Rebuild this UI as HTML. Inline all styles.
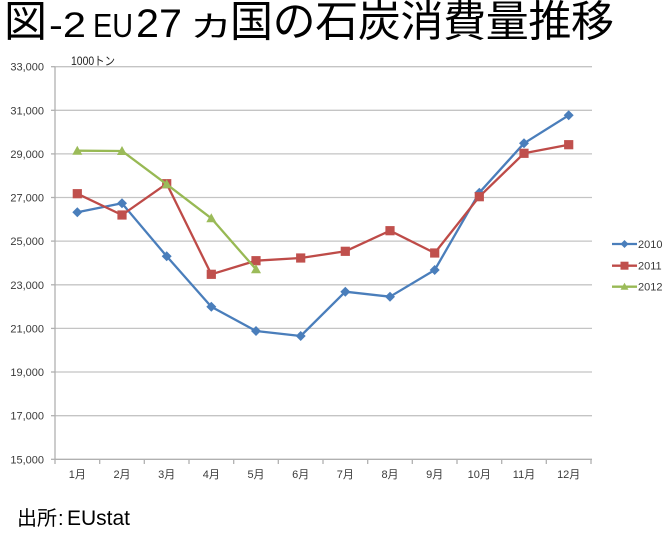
<!DOCTYPE html>
<html>
<head>
<meta charset="utf-8">
<style>
html,body{margin:0;padding:0;background:#fff;}
svg{display:block;}
</style>
</head>
<body>
<svg width="670" height="536" viewBox="0 0 670 536" xmlns="http://www.w3.org/2000/svg">
  <rect x="0" y="0" width="670" height="536" fill="#fff"/>
  <!-- Title -->
  <g fill="#000" font-family="'Liberation Sans','Noto Sans CJK JP',sans-serif">
    <text x="4" y="36.5" font-size="43" font-family="'Noto Sans CJK JP',sans-serif">図</text>
    <text x="49" y="37" font-size="35" textLength="37" lengthAdjust="spacingAndGlyphs">-2</text>
    <text x="93" y="37" font-size="33" textLength="40" lengthAdjust="spacingAndGlyphs">EU</text>
    <text x="136" y="37" font-size="40" textLength="46" lengthAdjust="spacingAndGlyphs">27</text>
    <text transform="translate(190,37) scale(1,0.7)" font-size="42" font-family="'Noto Sans CJK JP',sans-serif">カ</text>
    <text x="230" y="36.5" font-size="43" font-family="'Noto Sans CJK JP',sans-serif" textLength="384" lengthAdjust="spacing">国の石炭消費量推移</text>
  </g>

  <!-- unit -->
  <text x="71" y="65" font-size="12" fill="#222" font-family="'Liberation Sans','Noto Sans CJK JP',sans-serif" textLength="44" lengthAdjust="spacingAndGlyphs">1000トン</text>

  <!-- gridlines -->
  <g stroke="#c4c4c4" stroke-width="1.3">
    <line x1="55" y1="66.7" x2="592" y2="66.7"/>
    <line x1="55" y1="110.3" x2="592" y2="110.3"/>
    <line x1="55" y1="153.9" x2="592" y2="153.9"/>
    <line x1="55" y1="197.5" x2="592" y2="197.5"/>
    <line x1="55" y1="241.1" x2="592" y2="241.1"/>
    <line x1="55" y1="284.8" x2="592" y2="284.8"/>
    <line x1="55" y1="328.4" x2="592" y2="328.4"/>
    <line x1="55" y1="372.0" x2="592" y2="372.0"/>
    <line x1="55" y1="415.7" x2="592" y2="415.7"/>
  </g>
  <!-- axes -->
  <g stroke="#b0b0b0" stroke-width="1.3">
    <line x1="55" y1="66.7" x2="55" y2="459.3"/>
    <line x1="55" y1="459.3" x2="592" y2="459.3"/>
    <line x1="51" y1="66.7" x2="55" y2="66.7"/>
    <line x1="51" y1="110.3" x2="55" y2="110.3"/>
    <line x1="51" y1="153.9" x2="55" y2="153.9"/>
    <line x1="51" y1="197.5" x2="55" y2="197.5"/>
    <line x1="51" y1="241.1" x2="55" y2="241.1"/>
    <line x1="51" y1="284.8" x2="55" y2="284.8"/>
    <line x1="51" y1="328.4" x2="55" y2="328.4"/>
    <line x1="51" y1="372.0" x2="55" y2="372.0"/>
    <line x1="51" y1="415.7" x2="55" y2="415.7"/>
    <line x1="51" y1="459.3" x2="55" y2="459.3"/>
    <line x1="55" y1="459.3" x2="55" y2="464"/>
    <line x1="99.7" y1="459.3" x2="99.7" y2="464"/>
    <line x1="144.3" y1="459.3" x2="144.3" y2="464"/>
    <line x1="189" y1="459.3" x2="189" y2="464"/>
    <line x1="233.7" y1="459.3" x2="233.7" y2="464"/>
    <line x1="278.3" y1="459.3" x2="278.3" y2="464"/>
    <line x1="323" y1="459.3" x2="323" y2="464"/>
    <line x1="367.7" y1="459.3" x2="367.7" y2="464"/>
    <line x1="412.3" y1="459.3" x2="412.3" y2="464"/>
    <line x1="457" y1="459.3" x2="457" y2="464"/>
    <line x1="501.7" y1="459.3" x2="501.7" y2="464"/>
    <line x1="546.3" y1="459.3" x2="546.3" y2="464"/>
    <line x1="591" y1="459.3" x2="591" y2="464"/>
  </g>

  <!-- y labels -->
  <g font-size="11" fill="#3a3a3a" font-family="'Liberation Sans',sans-serif" text-anchor="end">
    <text x="44" y="70.7">33,000</text>
    <text x="44" y="114.3">31,000</text>
    <text x="44" y="157.9">29,000</text>
    <text x="44" y="201.5">27,000</text>
    <text x="44" y="245.1">25,000</text>
    <text x="44" y="288.8">23,000</text>
    <text x="44" y="332.4">21,000</text>
    <text x="44" y="376.0">19,000</text>
    <text x="44" y="419.7">17,000</text>
    <text x="44" y="463.3">15,000</text>
  </g>

  <!-- x labels -->
  <g font-size="11" fill="#3a3a3a" font-family="'Liberation Sans','Noto Sans CJK JP',sans-serif" text-anchor="middle">
    <text x="77.3" y="478">1月</text>
    <text x="122" y="478">2月</text>
    <text x="166.7" y="478">3月</text>
    <text x="211.3" y="478">4月</text>
    <text x="256" y="478">5月</text>
    <text x="300.7" y="478">6月</text>
    <text x="345.3" y="478">7月</text>
    <text x="390" y="478">8月</text>
    <text x="434.7" y="478">9月</text>
    <text x="479.3" y="478">10月</text>
    <text x="524" y="478">11月</text>
    <text x="568.7" y="478">12月</text>
  </g>

  <defs>
    <path id="dia" d="M0,-5 L5,0 L0,5 L-5,0 Z"/>
    <rect id="sq" x="-4.6" y="-4.6" width="9.2" height="9.2"/>
    <path id="tri" d="M0,-5 L5,4 L-5,4 Z"/>
  </defs>

  <!-- 2010 -->
  <polyline fill="none" stroke="#4A7EBB" stroke-width="2.3" stroke-linejoin="round"
    points="77.3,212.3 122,203.3 166.7,256.3 211.3,306.7 256,331 300.7,336 345.3,291.7 390,296.7 434.7,270 479.3,192.7 524,143.3 568.7,115.3"/>
  <g fill="#4A7EBB">
    <use href="#dia" x="77.3" y="212.3"/><use href="#dia" x="122" y="203.3"/><use href="#dia" x="166.7" y="256.3"/>
    <use href="#dia" x="211.3" y="306.7"/><use href="#dia" x="256" y="331"/><use href="#dia" x="300.7" y="336"/>
    <use href="#dia" x="345.3" y="291.7"/><use href="#dia" x="390" y="296.7"/><use href="#dia" x="434.7" y="270"/>
    <use href="#dia" x="479.3" y="192.7"/><use href="#dia" x="524" y="143.3"/><use href="#dia" x="568.7" y="115.3"/>
  </g>

  <!-- 2011 -->
  <polyline fill="none" stroke="#BE4B48" stroke-width="2.3" stroke-linejoin="round"
    points="77.3,193.7 122,215 166.7,183.7 211.3,274.3 256,260.7 300.7,258 345.3,251.3 390,230.7 434.7,253 479.3,196.7 524,153.3 568.7,144.7"/>
  <g fill="#C0504D">
    <use href="#sq" x="77.3" y="193.7"/><use href="#sq" x="122" y="215"/><use href="#sq" x="166.7" y="183.7"/>
    <use href="#sq" x="211.3" y="274.3"/><use href="#sq" x="256" y="260.7"/><use href="#sq" x="300.7" y="258"/>
    <use href="#sq" x="345.3" y="251.3"/><use href="#sq" x="390" y="230.7"/><use href="#sq" x="434.7" y="253"/>
    <use href="#sq" x="479.3" y="196.7"/><use href="#sq" x="524" y="153.3"/><use href="#sq" x="568.7" y="144.7"/>
  </g>

  <!-- 2012 -->
  <polyline fill="none" stroke="#98B954" stroke-width="2.3" stroke-linejoin="round"
    points="77.3,150.7 122,151 166.7,184.3 211.3,218.3 256,269.3"/>
  <g fill="#9BBB59">
    <use href="#tri" x="77.3" y="150.7"/><use href="#tri" x="122" y="151"/><use href="#tri" x="166.7" y="184.3"/>
    <use href="#tri" x="211.3" y="218.3"/><use href="#tri" x="256" y="269.3"/>
  </g>

  <!-- legend -->
  <line x1="612" y1="244" x2="637" y2="244" stroke="#4A7EBB" stroke-width="2.3"/>
  <path d="M624.5,240 L628.5,244 L624.5,248 L620.5,244 Z" fill="#4A7EBB"/>
  <line x1="612" y1="265.7" x2="637" y2="265.7" stroke="#BE4B48" stroke-width="2.3"/>
  <rect x="620.5" y="261.7" width="8" height="8" fill="#C0504D"/>
  <line x1="612" y1="286.7" x2="637" y2="286.7" stroke="#98B954" stroke-width="2.3"/>
  <path d="M624.5,282.7 L628.5,289.7 L620.5,289.7 Z" fill="#9BBB59"/>
  <g font-size="11" fill="#3a3a3a" font-family="'Liberation Sans',sans-serif">
    <text x="638" y="248">2010</text>
    <text x="638" y="269.7">2011</text>
    <text x="638" y="290.7">2012</text>
  </g>

  <!-- source -->
  <g fill="#000" font-family="'Liberation Sans','Noto Sans CJK JP',sans-serif">
    <text x="17" y="525" font-size="20" font-family="'Noto Sans CJK JP',sans-serif">出所</text>
    <text x="58" y="525" font-size="20">:</text>
    <text x="67" y="525" font-size="21">EUstat</text>
  </g>
</svg>
</body>
</html>
